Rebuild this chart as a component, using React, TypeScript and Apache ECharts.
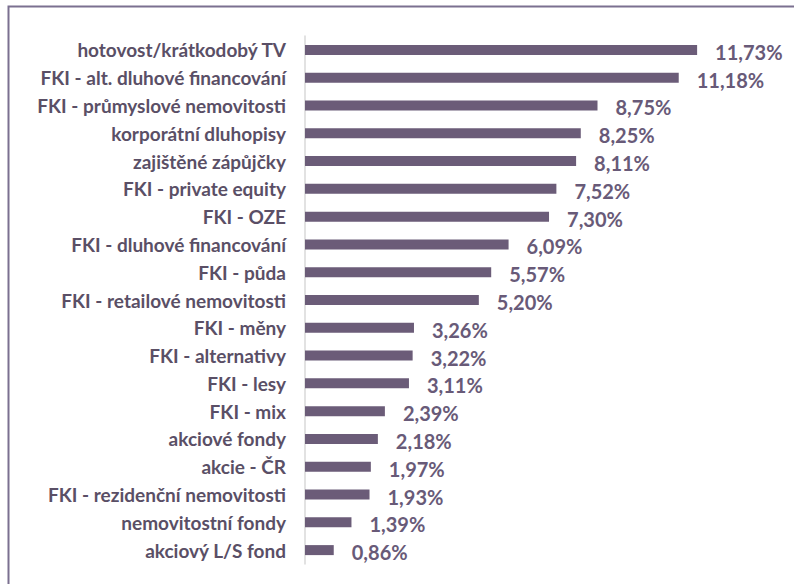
import React, { useEffect, useRef } from "react";
import * as echarts from "echarts";

const categories = [
  "hotovost/krátkodobý TV",
  "FKI - alt. dluhové financování",
  "FKI - průmyslové nemovitosti",
  "korporátní dluhopisy",
  "zajištěné zápůjčky",
  "FKI - private equity",
  "FKI - OZE",
  "FKI - dluhové financování",
  "FKI - půda",
  "FKI - retailové nemovitosti",
  "FKI - měny",
  "FKI - alternativy",
  "FKI - lesy",
  "FKI - mix",
  "akciové fondy",
  "akcie - ČR",
  "FKI - rezidenční nemovitosti",
  "nemovitostní fondy",
  "akciový L/S fond",
];

const values = [
  11.73, 11.18, 8.75, 8.25, 8.11, 7.52, 7.3, 6.09, 5.57, 5.2, 3.26, 3.22, 3.11,
  2.39, 2.18, 1.97, 1.93, 1.39, 0.86,
];

export default function App() {
  const ref = useRef<HTMLDivElement>(null);
  useEffect(() => {
    if (!ref.current) return;
    const chart = echarts.init(ref.current, null, { renderer: "svg" });
    chart.setOption({
      animation: false,
      backgroundColor: "#ffffff",
      graphic: [
        {
          type: "rect",
          shape: { x: 8.5, y: 6.5, width: 820, height: 620 },
          style: { fill: "none", stroke: "#7b7090", lineWidth: 2 },
          silent: true,
        },
      ],
      grid: { left: 305, top: 36, width: 468, height: 528, containLabel: false },
      xAxis: {
        type: "value",
        min: 0,
        max: 14,
        show: false,
      },
      yAxis: {
        type: "category",
        data: categories,
        inverse: true,
        axisLine: { show: true, lineStyle: { color: "#d9d9d9", width: 1.5 } },
        axisTick: { show: false },
        axisLabel: {
          margin: 19,
          fontFamily: "Lato",
          fontWeight: "bold",
          fontSize: 19,
          color: "#5a4f66",
        },
      },
      series: [
        {
          type: "bar",
          data: values,
          barWidth: 10,
          itemStyle: { color: "#6b5c78" },
          label: {
            show: true,
            position: "right",
            distance: 18,
            offset: [0, 2],
            fontFamily: "Lato",
            fontWeight: "bold",
            fontSize: 20,
            color: "#685a78",
            formatter: (p: any) => p.value.toFixed(2).replace(".", ",") + "%",
          },
        },
      ],
    });
    return () => chart.dispose();
  }, []);
  return (
    <div
      ref={ref}
      style={{ position: "fixed", left: 0, top: 0, width: 794, height: 584 }}
    />
  );
}
